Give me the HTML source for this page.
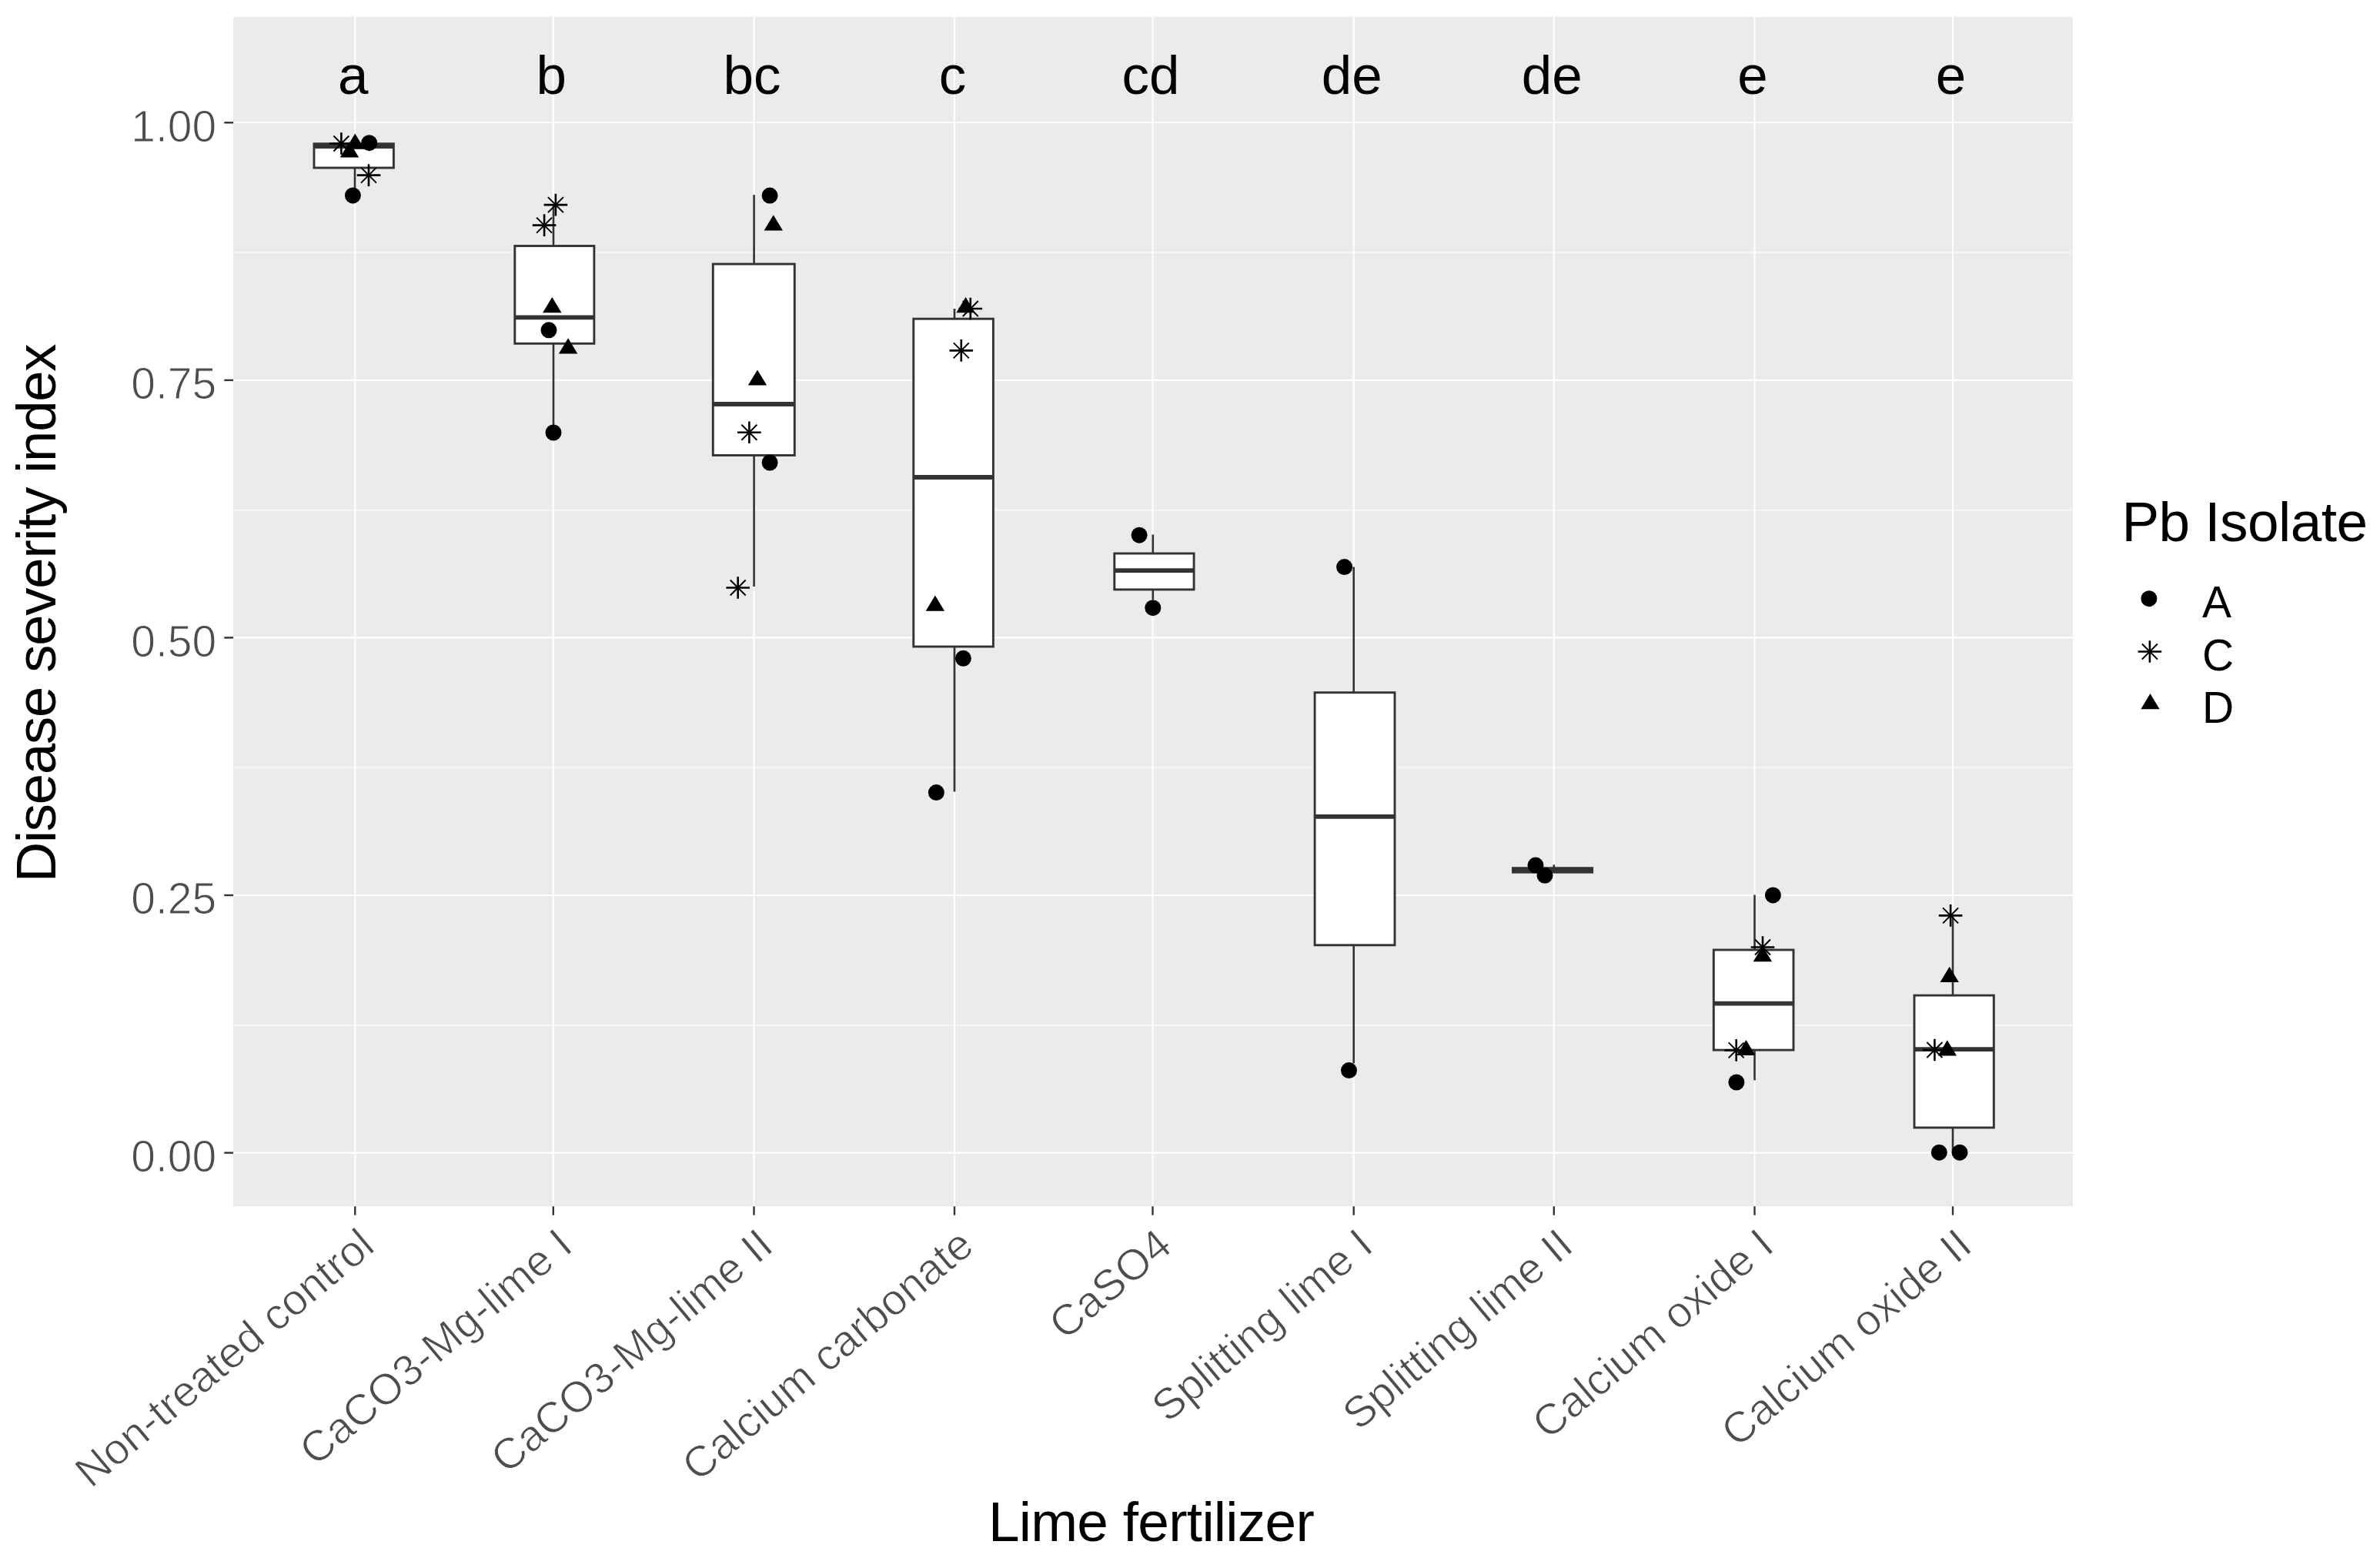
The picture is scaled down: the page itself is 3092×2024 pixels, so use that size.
<!DOCTYPE html><html><head><meta charset="utf-8"><style>html,body{margin:0;padding:0;background:#fff;}svg{display:block;}text{font-family:"Liberation Sans",sans-serif;}</style></head><body>
<svg width="3092" height="2024" viewBox="0 0 3092 2024">
<rect x="0" y="0" width="3092" height="2024" fill="#fff"/>
<rect x="303.1" y="21.8" width="2389.8" height="1545.4" fill="#EBEBEB"/>
<line x1="303.1" x2="2692.9" y1="1331.7" y2="1331.7" stroke="#FAFAFA" stroke-width="1.4"/>
<line x1="303.1" x2="2692.9" y1="997.1" y2="997.1" stroke="#FAFAFA" stroke-width="1.4"/>
<line x1="303.1" x2="2692.9" y1="662.6" y2="662.6" stroke="#FAFAFA" stroke-width="1.4"/>
<line x1="303.1" x2="2692.9" y1="328.0" y2="328.0" stroke="#FAFAFA" stroke-width="1.4"/>
<line x1="303.1" x2="2692.9" y1="1497.6" y2="1497.6" stroke="#fff" stroke-width="2.1"/>
<line x1="303.1" x2="2692.9" y1="1163.0" y2="1163.0" stroke="#fff" stroke-width="2.1"/>
<line x1="303.1" x2="2692.9" y1="828.4" y2="828.4" stroke="#fff" stroke-width="2.1"/>
<line x1="303.1" x2="2692.9" y1="493.9" y2="493.9" stroke="#fff" stroke-width="2.1"/>
<line x1="303.1" x2="2692.9" y1="159.3" y2="159.3" stroke="#fff" stroke-width="2.1"/>
<line x1="461.3" x2="461.3" y1="21.8" y2="1567.2" stroke="#fff" stroke-width="2.1"/>
<line x1="718.8" x2="718.8" y1="21.8" y2="1567.2" stroke="#fff" stroke-width="2.1"/>
<line x1="979.5" x2="979.5" y1="21.8" y2="1567.2" stroke="#fff" stroke-width="2.1"/>
<line x1="1240.0" x2="1240.0" y1="21.8" y2="1567.2" stroke="#fff" stroke-width="2.1"/>
<line x1="1497.5" x2="1497.5" y1="21.8" y2="1567.2" stroke="#fff" stroke-width="2.1"/>
<line x1="1758.7" x2="1758.7" y1="21.8" y2="1567.2" stroke="#fff" stroke-width="2.1"/>
<line x1="2018.8" x2="2018.8" y1="21.8" y2="1567.2" stroke="#fff" stroke-width="2.1"/>
<line x1="2279.5" x2="2279.5" y1="21.8" y2="1567.2" stroke="#fff" stroke-width="2.1"/>
<line x1="2537.0" x2="2537.0" y1="21.8" y2="1567.2" stroke="#fff" stroke-width="2.1"/>
<line x1="291.3" x2="303.1" y1="1497.6" y2="1497.6" stroke="#333" stroke-width="2.4"/>
<line x1="291.3" x2="303.1" y1="1163.0" y2="1163.0" stroke="#333" stroke-width="2.4"/>
<line x1="291.3" x2="303.1" y1="828.4" y2="828.4" stroke="#333" stroke-width="2.4"/>
<line x1="291.3" x2="303.1" y1="493.9" y2="493.9" stroke="#333" stroke-width="2.4"/>
<line x1="291.3" x2="303.1" y1="159.3" y2="159.3" stroke="#333" stroke-width="2.4"/>
<line x1="461.3" x2="461.3" y1="1567.2" y2="1578.6" stroke="#333" stroke-width="2.4"/>
<line x1="718.8" x2="718.8" y1="1567.2" y2="1578.6" stroke="#333" stroke-width="2.4"/>
<line x1="979.5" x2="979.5" y1="1567.2" y2="1578.6" stroke="#333" stroke-width="2.4"/>
<line x1="1240.0" x2="1240.0" y1="1567.2" y2="1578.6" stroke="#333" stroke-width="2.4"/>
<line x1="1497.5" x2="1497.5" y1="1567.2" y2="1578.6" stroke="#333" stroke-width="2.4"/>
<line x1="1758.7" x2="1758.7" y1="1567.2" y2="1578.6" stroke="#333" stroke-width="2.4"/>
<line x1="2018.8" x2="2018.8" y1="1567.2" y2="1578.6" stroke="#333" stroke-width="2.4"/>
<line x1="2279.5" x2="2279.5" y1="1567.2" y2="1578.6" stroke="#333" stroke-width="2.4"/>
<line x1="2537.0" x2="2537.0" y1="1567.2" y2="1578.6" stroke="#333" stroke-width="2.4"/>
<text x="281.2" y="1521.8" font-size="57" fill="#4D4D4D" stroke="#fff" stroke-width="1.0" text-anchor="end">0.00</text>
<text x="281.2" y="1187.2" font-size="57" fill="#4D4D4D" stroke="#fff" stroke-width="1.0" text-anchor="end">0.25</text>
<text x="281.2" y="852.6" font-size="57" fill="#4D4D4D" stroke="#fff" stroke-width="1.0" text-anchor="end">0.50</text>
<text x="281.2" y="518.1" font-size="57" fill="#4D4D4D" stroke="#fff" stroke-width="1.0" text-anchor="end">0.75</text>
<text x="281.2" y="183.5" font-size="57" fill="#4D4D4D" stroke="#fff" stroke-width="1.0" text-anchor="end">1.00</text>
<g stroke="#333" fill="none">
<line x1="461.0" x2="461.0" y1="186.7" y2="186.7" stroke-width="2.6"/>
<line x1="461.0" x2="461.0" y1="218.0" y2="253.5" stroke-width="2.6"/>
<rect x="408.0" y="186.7" width="103.4" height="31.3" fill="#fff" stroke-width="2.9"/>
<line x1="408.0" x2="511.4" y1="190.0" y2="190.0" stroke-width="5.8"/>
<line x1="719.0" x2="719.0" y1="266.0" y2="319.5" stroke-width="2.6"/>
<line x1="719.0" x2="719.0" y1="446.3" y2="562.0" stroke-width="2.6"/>
<rect x="668.8" y="319.5" width="103.1" height="126.8" fill="#fff" stroke-width="2.9"/>
<line x1="668.8" x2="771.9" y1="412.3" y2="412.3" stroke-width="5.8"/>
<line x1="979.6" x2="979.6" y1="253.1" y2="343.0" stroke-width="2.6"/>
<line x1="979.6" x2="979.6" y1="591.5" y2="762.0" stroke-width="2.6"/>
<rect x="926.3" y="343.0" width="106.0" height="248.5" fill="#fff" stroke-width="2.9"/>
<line x1="926.3" x2="1032.3" y1="525.0" y2="525.0" stroke-width="5.8"/>
<line x1="1240.0" x2="1240.0" y1="401.0" y2="414.2" stroke-width="2.6"/>
<line x1="1240.0" x2="1240.0" y1="840.0" y2="1028.5" stroke-width="2.6"/>
<rect x="1186.8" y="414.2" width="103.6" height="425.8" fill="#fff" stroke-width="2.9"/>
<line x1="1186.8" x2="1290.4" y1="620.0" y2="620.0" stroke-width="5.8"/>
<line x1="1497.8" x2="1497.8" y1="694.5" y2="719.0" stroke-width="2.6"/>
<line x1="1497.8" x2="1497.8" y1="765.9" y2="779.0" stroke-width="2.6"/>
<rect x="1447.8" y="719.0" width="103.3" height="46.9" fill="#fff" stroke-width="2.9"/>
<line x1="1447.8" x2="1551.1" y1="741.2" y2="741.2" stroke-width="5.8"/>
<line x1="1758.7" x2="1758.7" y1="736.5" y2="899.7" stroke-width="2.6"/>
<line x1="1758.7" x2="1758.7" y1="1227.8" y2="1381.5" stroke-width="2.6"/>
<rect x="1708.1" y="899.7" width="103.9" height="328.1" fill="#fff" stroke-width="2.9"/>
<line x1="1708.1" x2="1812.0" y1="1060.8" y2="1060.8" stroke-width="5.8"/>
<line x1="2018.8" x2="2018.8" y1="1123.3" y2="1127.7" stroke-width="2.6"/>
<line x1="2018.8" x2="2018.8" y1="1133.2" y2="1133.2" stroke-width="2.6"/>
<rect x="1965.5" y="1127.7" width="103.1" height="5.5" fill="#fff" stroke-width="2.9"/>
<line x1="1965.5" x2="2068.6" y1="1130.5" y2="1130.5" stroke-width="5.8"/>
<line x1="2279.5" x2="2279.5" y1="1162.5" y2="1234.0" stroke-width="2.6"/>
<line x1="2279.5" x2="2279.5" y1="1364.1" y2="1403.4" stroke-width="2.6"/>
<rect x="2226.3" y="1234.0" width="103.7" height="130.1" fill="#fff" stroke-width="2.9"/>
<line x1="2226.3" x2="2330.0" y1="1303.7" y2="1303.7" stroke-width="5.8"/>
<line x1="2537.0" x2="2537.0" y1="1189.4" y2="1293.1" stroke-width="2.6"/>
<line x1="2537.0" x2="2537.0" y1="1464.9" y2="1497.0" stroke-width="2.6"/>
<rect x="2487.0" y="1293.1" width="103.3" height="171.8" fill="#fff" stroke-width="2.9"/>
<line x1="2487.0" x2="2590.3" y1="1363.1" y2="1363.1" stroke-width="5.8"/>
</g>
<path d="M428.1 186.5H458.7M443.4 172.2V200.8" stroke="#000" stroke-width="2.6" fill="none"/><path d="M433.4 176.5L453.4 196.5M433.4 196.5L453.4 176.5" stroke="#000" stroke-width="2.0" fill="none"/><polygon points="461.3,173.5 473.5,193.7 449.1,193.7" fill="#000"/><polygon points="454.0,184.2 466.2,204.4 441.8,204.4" fill="#000"/><circle cx="479.7" cy="185.7" r="10.5" fill="#000"/><path d="M463.7 227.6H494.3M479.0 213.3V241.9" stroke="#000" stroke-width="2.6" fill="none"/><path d="M469.0 217.6L489.0 237.6M469.0 237.6L489.0 217.6" stroke="#000" stroke-width="2.0" fill="none"/><circle cx="458.4" cy="253.9" r="10.5" fill="#000"/><path d="M706.6 266.1H737.2M721.9 251.8V280.4" stroke="#000" stroke-width="2.6" fill="none"/><path d="M711.9 256.1L731.9 276.1M711.9 276.1L731.9 256.1" stroke="#000" stroke-width="2.0" fill="none"/><path d="M691.8 292.6H722.4M707.1 278.3V306.9" stroke="#000" stroke-width="2.6" fill="none"/><path d="M697.1 282.6L717.1 302.6M697.1 302.6L717.1 282.6" stroke="#000" stroke-width="2.0" fill="none"/><polygon points="717.3,386.0 729.5,406.2 705.1,406.2" fill="#000"/><circle cx="713.0" cy="428.8" r="10.5" fill="#000"/><polygon points="738.1,439.3 750.3,459.5 725.9,459.5" fill="#000"/><circle cx="719.0" cy="562.0" r="10.5" fill="#000"/><circle cx="1000.1" cy="254.1" r="10.5" fill="#000"/><polygon points="1004.8,279.3 1017.0,299.5 992.6,299.5" fill="#000"/><polygon points="984.0,480.4 996.2,500.6 971.8,500.6" fill="#000"/><path d="M958.1 561.7H988.7M973.4 547.4V576.0" stroke="#000" stroke-width="2.6" fill="none"/><path d="M963.4 551.7L983.4 571.7M963.4 571.7L983.4 551.7" stroke="#000" stroke-width="2.0" fill="none"/><circle cx="1000.1" cy="601.0" r="10.5" fill="#000"/><path d="M943.4 763.5H974.0M958.7 749.2V777.8" stroke="#000" stroke-width="2.6" fill="none"/><path d="M948.7 753.5L968.7 773.5M948.7 773.5L968.7 753.5" stroke="#000" stroke-width="2.0" fill="none"/><polygon points="1254.6,386.0 1266.8,406.2 1242.4,406.2" fill="#000"/><path d="M1245.5 401.0H1276.1M1260.8 386.7V415.3" stroke="#000" stroke-width="2.6" fill="none"/><path d="M1250.8 391.0L1270.8 411.0M1250.8 411.0L1270.8 391.0" stroke="#000" stroke-width="2.0" fill="none"/><path d="M1233.5 455.4H1264.1M1248.8 441.1V469.7" stroke="#000" stroke-width="2.6" fill="none"/><path d="M1238.8 445.4L1258.8 465.4M1238.8 465.4L1258.8 445.4" stroke="#000" stroke-width="2.0" fill="none"/><polygon points="1214.9,773.5 1227.1,793.7 1202.7,793.7" fill="#000"/><circle cx="1251.4" cy="855.3" r="10.5" fill="#000"/><circle cx="1216.4" cy="1029.6" r="10.5" fill="#000"/><circle cx="1480.1" cy="695.2" r="10.5" fill="#000"/><circle cx="1497.8" cy="789.7" r="10.5" fill="#000"/><circle cx="1746.6" cy="736.6" r="10.5" fill="#000"/><circle cx="1752.5" cy="1390.6" r="10.5" fill="#000"/><circle cx="1995.0" cy="1124.1" r="10.5" fill="#000"/><circle cx="2007.0" cy="1137.3" r="10.5" fill="#000"/><circle cx="2303.4" cy="1162.9" r="10.5" fill="#000"/><path d="M2274.7 1230.5H2305.3M2290.0 1216.2V1244.8" stroke="#000" stroke-width="2.6" fill="none"/><path d="M2280.0 1220.5L2300.0 1240.5M2280.0 1240.5L2300.0 1220.5" stroke="#000" stroke-width="2.0" fill="none"/><polygon points="2289.9,1229.0 2302.1,1249.2 2277.7,1249.2" fill="#000"/><path d="M2240.4 1364.4H2271.0M2255.7 1350.1V1378.7" stroke="#000" stroke-width="2.6" fill="none"/><path d="M2245.7 1354.4L2265.7 1374.4M2245.7 1374.4L2265.7 1354.4" stroke="#000" stroke-width="2.0" fill="none"/><polygon points="2268.4,1350.9 2280.6,1371.1 2256.2,1371.1" fill="#000"/><circle cx="2255.9" cy="1406.0" r="10.5" fill="#000"/><path d="M2518.8 1189.4H2549.4M2534.1 1175.1V1203.7" stroke="#000" stroke-width="2.6" fill="none"/><path d="M2524.1 1179.4L2544.1 1199.4M2524.1 1199.4L2544.1 1179.4" stroke="#000" stroke-width="2.0" fill="none"/><polygon points="2532.7,1255.8 2544.9,1276.0 2520.5,1276.0" fill="#000"/><path d="M2498.1 1364.0H2528.7M2513.4 1349.7V1378.3" stroke="#000" stroke-width="2.6" fill="none"/><path d="M2503.4 1354.0L2523.4 1374.0M2503.4 1374.0L2523.4 1354.0" stroke="#000" stroke-width="2.0" fill="none"/><polygon points="2529.8,1351.2 2542.0,1371.4 2517.6,1371.4" fill="#000"/><circle cx="2519.3" cy="1497.2" r="10.5" fill="#000"/><circle cx="2546.0" cy="1497.2" r="10.5" fill="#000"/>
<text x="458.8" y="122.0" font-size="71" fill="#000" text-anchor="middle">a</text>
<text x="716.3" y="122.0" font-size="71" fill="#000" text-anchor="middle">b</text>
<text x="977.0" y="122.0" font-size="71" fill="#000" text-anchor="middle">bc</text>
<text x="1237.5" y="122.0" font-size="71" fill="#000" text-anchor="middle">c</text>
<text x="1495.0" y="122.0" font-size="71" fill="#000" text-anchor="middle">cd</text>
<text x="1756.2" y="122.0" font-size="71" fill="#000" text-anchor="middle">de</text>
<text x="2016.3" y="122.0" font-size="71" fill="#000" text-anchor="middle">de</text>
<text x="2277.0" y="122.0" font-size="71" fill="#000" text-anchor="middle">e</text>
<text x="2534.5" y="122.0" font-size="71" fill="#000" text-anchor="middle">e</text>
<text x="0" y="43.7" font-size="56.6" fill="#4D4D4D" stroke="#fff" stroke-width="1.0" text-anchor="end" transform="translate(461.3,1589.7) rotate(-40)">Non-treated control</text>
<text x="0" y="43.7" font-size="56.6" fill="#4D4D4D" stroke="#fff" stroke-width="1.0" text-anchor="end" transform="translate(718.8,1589.7) rotate(-40)">CaCO3-Mg-lime I</text>
<text x="0" y="43.7" font-size="56.6" fill="#4D4D4D" stroke="#fff" stroke-width="1.0" text-anchor="end" transform="translate(979.5,1589.7) rotate(-40)">CaCO3-Mg-lime II</text>
<text x="0" y="43.7" font-size="56.6" fill="#4D4D4D" stroke="#fff" stroke-width="1.0" text-anchor="end" transform="translate(1240.0,1589.7) rotate(-40)">Calcium carbonate</text>
<text x="0" y="43.7" font-size="56.6" fill="#4D4D4D" stroke="#fff" stroke-width="1.0" text-anchor="end" transform="translate(1497.5,1589.7) rotate(-40)">CaSO4</text>
<text x="0" y="43.7" font-size="56.6" fill="#4D4D4D" stroke="#fff" stroke-width="1.0" text-anchor="end" transform="translate(1758.7,1589.7) rotate(-40)">Splitting lime I</text>
<text x="0" y="43.7" font-size="56.6" fill="#4D4D4D" stroke="#fff" stroke-width="1.0" text-anchor="end" transform="translate(2018.8,1589.7) rotate(-40)">Splitting lime II</text>
<text x="0" y="43.7" font-size="56.6" fill="#4D4D4D" stroke="#fff" stroke-width="1.0" text-anchor="end" transform="translate(2279.5,1589.7) rotate(-40)">Calcium oxide I</text>
<text x="0" y="43.7" font-size="56.6" fill="#4D4D4D" stroke="#fff" stroke-width="1.0" text-anchor="end" transform="translate(2537.0,1589.7) rotate(-40)">Calcium oxide II</text>
<text x="1283.9" y="2001.8" font-size="73" fill="#000" textLength="423.9" lengthAdjust="spacing">Lime fertilizer</text>
<text x="0" y="0" font-size="72.5" fill="#000" textLength="699.8" lengthAdjust="spacing" transform="translate(71.6,1146.2) rotate(-90)">Disease severity index</text>
<text x="2756.4" y="703.1" font-size="73" fill="#000" textLength="319.6" lengthAdjust="spacing">Pb Isolate</text>
<circle cx="2791.9" cy="777.7" r="10.5" fill="#000"/><path d="M2777.6 846.5H2808.2M2792.9 832.2V860.8" stroke="#000" stroke-width="2.6" fill="none"/><path d="M2782.9 836.5L2802.9 856.5M2782.9 856.5L2802.9 836.5" stroke="#000" stroke-width="2.0" fill="none"/><polygon points="2793.5,901.1 2805.7,921.3 2781.3,921.3" fill="#000"/>
<text x="2861" y="802.4" font-size="57" fill="#000">A</text>
<text x="2861" y="870.6" font-size="57" fill="#000">C</text>
<text x="2861" y="938.8" font-size="57" fill="#000">D</text>
</svg></body></html>
